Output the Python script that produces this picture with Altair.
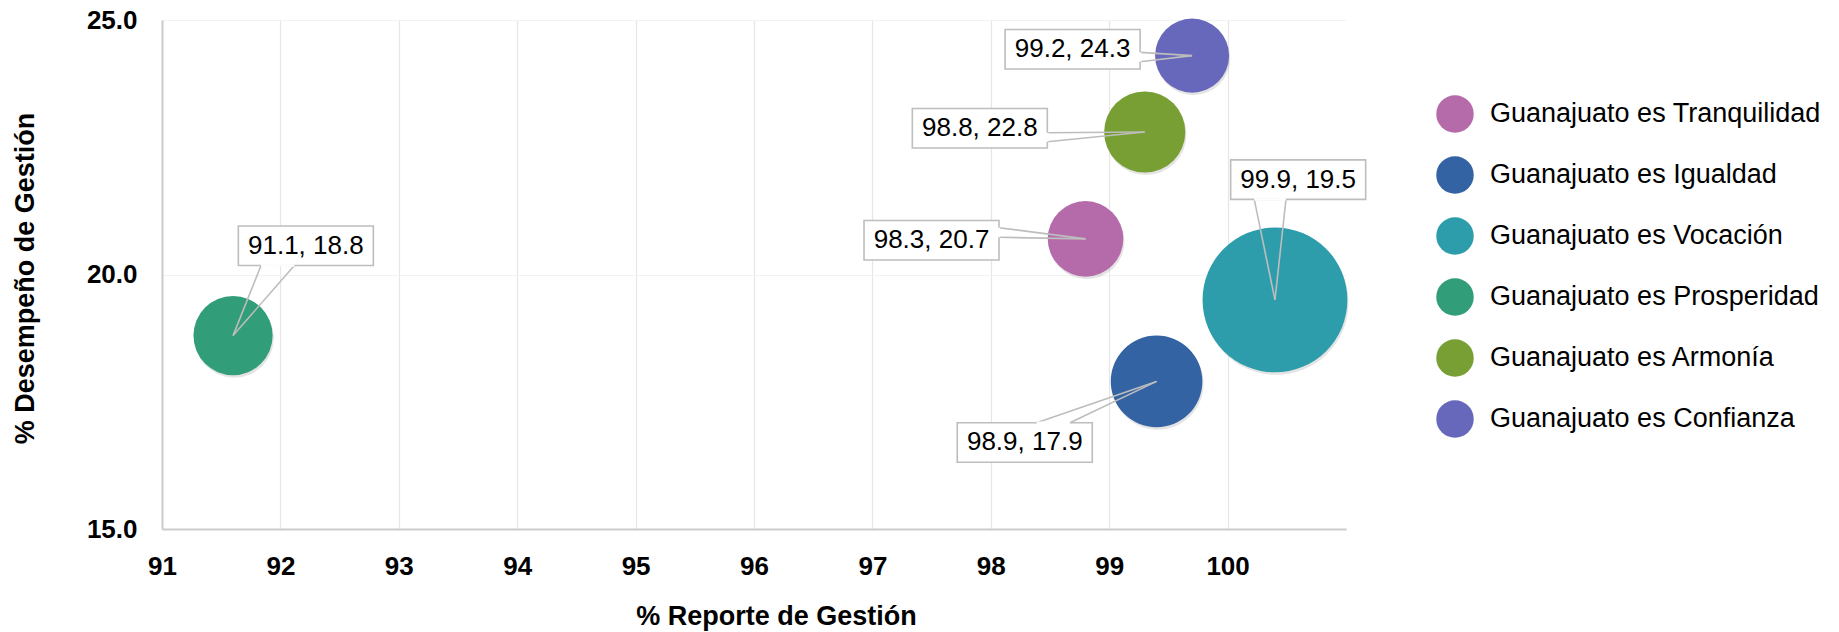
import altair as alt
import pandas as pd

# ---------------- data ----------------
categorias = [
    "Guanajuato es Tranquilidad",
    "Guanajuato es Igualdad",
    "Guanajuato es Vocación",
    "Guanajuato es Prosperidad",
    "Guanajuato es Armonía",
    "Guanajuato es Confianza",
]
reporte = [98.8, 99.4, 100.4, 91.6, 99.3, 99.7]       # bubble position, % Reporte de Gestión
desempeno = [20.7, 17.9, 19.5, 18.8, 22.8, 24.3]      # bubble position, % Desempeño de Gestión
etiquetas = ["98.3, 20.7", "98.9, 17.9", "99.9, 19.5", "91.1, 18.8", "98.8, 22.8", "99.2, 24.3"]
tamano = [57.2, 83.9, 209.7, 62.7, 65.9, 54.8]        # bubble size value (estimated)
colores = ["#B56BAA", "#3363A3", "#2E9DAB", "#329D79", "#789F33", "#6768BC"]

x_ticks = [91, 92, 93, 94, 95, 96, 97, 98, 99, 100]
y_ticks = [15, 20, 25]

# ---------------- layout / style ----------------
X_DOMAIN = [91, 101]
Y_DOMAIN = [15, 25]
W, H = 1184, 509
PXX = W / (X_DOMAIN[1] - X_DOMAIN[0])
PXY = H / (Y_DOMAIN[1] - Y_DOMAIN[0])
FONT = "Liberation Sans"
GREY = "#bdbdbd"

BOX_W, BOX_H = 135, 39.5
# callout layout in pixels relative to bubble centre (right, down):
# box centre offset, and the two points where the pointer leaves the box
callouts = {
    "Guanajuato es Tranquilidad": ((-154, 1.4), (-86.5, -11.2), (-86.5, -1.6)),
    "Guanajuato es Igualdad": ((-131.8, 61.1), (-119.9, 41.35), (-86.6, 41.35)),
    "Guanajuato es Vocación": ((23.2, -120.3), (-20.7, -100.55), (11, -100.55)),
    "Guanajuato es Prosperidad": ((72.8, -89.8), (28, -70.05), (61.3, -70.05)),
    "Guanajuato es Armonía": ((-164.9, -3.7), (-97.4, 0.7), (-97.4, 9.7)),
    "Guanajuato es Confianza": ((-119.5, -6.4), (-52, -3.3), (-52, 6.1)),
}

df = pd.DataFrame({
    "cat": categorias, "x": reporte, "y": desempeno, "z": tamano, "label": etiquetas,
})

shadow = df.copy()
shadow["x"] = shadow["x"] + 1.2 / PXX
shadow["y"] = shadow["y"] - 2.5 / PXY

boxes, wedges, gaps = [], [], []
for c, x, y, lab in zip(categorias, reporte, desempeno, etiquetas):
    (bdx, bdy), p1, p2 = callouts[c]
    boxes.append({
        "x": x + (bdx - BOX_W / 2) / PXX, "x2": x + (bdx + BOX_W / 2) / PXX,
        "y": y - (bdy - BOX_H / 2) / PXY, "y2": y - (bdy + BOX_H / 2) / PXY,
        "cx": x + bdx / PXX, "cy": y - bdy / PXY, "label": lab,
    })
    for p in (p1, p2):
        wedges.append({"x": x, "y": y, "x2": x + p[0] / PXX, "y2": y - p[1] / PXY})
    gaps.append({"x": x + p1[0] / PXX, "y": y - p1[1] / PXY,
                 "x2": x + p2[0] / PXX, "y2": y - p2[1] / PXY})
boxes = pd.DataFrame(boxes)
wedges = pd.DataFrame(wedges)
gaps = pd.DataFrame(gaps)

xs = alt.Scale(domain=X_DOMAIN, nice=False, zero=False)
ys = alt.Scale(domain=Y_DOMAIN, nice=False, zero=False)

x_axis = alt.Axis(
    values=x_ticks, format="d", title="% Reporte de Gestión",
    labelFont=FONT, labelFontSize=26, labelFontWeight="bold", labelColor="#000000",
    labelPadding=24, ticks=False, domainColor="#cccccc", domainWidth=2,
    gridColor="#e6e6e6", gridWidth=1.2, labelFlush=False,
    titleFont=FONT, titleFontSize=27, titleFontWeight="bold", titleColor="#000000",
    titleX=614, titleY=87, titleBaseline="middle", titleAlign="center",
)
y_axis = alt.Axis(
    values=y_ticks, format=".1f", title="% Desempeño de Gestión",
    labelFont=FONT, labelFontSize=26, labelFontWeight="bold", labelColor="#000000",
    labelPadding=25, ticks=False, domainColor="#cccccc", domainWidth=2,
    gridColor="#f2f2f2", gridWidth=1.2, labelFlush=False,
    titleFont=FONT, titleFontSize=27, titleFontWeight="bold", titleColor="#000000",
    titleX=-136.5, titleY=258, titleAngle=270, titleBaseline="middle", titleAlign="center",
)


def X(field):
    return alt.X(field, scale=xs, axis=x_axis, title="% Reporte de Gestión")


def Y(field):
    return alt.Y(field, scale=ys, axis=y_axis, title="% Desempeño de Gestión")


size_scale = alt.Scale(domain=[0, 209.7], range=[0, 20967], zero=True)

shadow_layer = alt.Chart(shadow).mark_circle(color="#7a7a7a", opacity=0.2).encode(
    x=X("x:Q"), y=Y("y:Q"),
    size=alt.Size("z:Q", scale=size_scale, legend=None),
)

bubbles = alt.Chart(df).mark_circle(opacity=1).encode(
    x=X("x:Q"), y=Y("y:Q"),
    size=alt.Size("z:Q", scale=size_scale, legend=None),
    color=alt.Color(
        "cat:N",
        scale=alt.Scale(domain=categorias, range=colores),
        sort=categorias,
        legend=alt.Legend(
            title=None, orient="none", legendX=1274, legendY=75,
            symbolType="circle", symbolSize=1406, symbolStrokeWidth=0, symbolOpacity=1,
            labelFont=FONT, labelFontSize=27, labelColor="#000000", labelLimit=600,
            labelOffset=16, rowPadding=23, padding=0,
        ),
    ),
)

box_layer = alt.Chart(boxes).mark_rect(fill="white", stroke=GREY, strokeWidth=1.6).encode(
    x=X("x:Q"), x2="x2:Q", y=Y("y:Q"), y2="y2:Q",
)

wedge_layer = alt.Chart(wedges).mark_rule(color=GREY, strokeWidth=1.6).encode(
    x=X("x:Q"), x2="x2:Q", y=Y("y:Q"), y2="y2:Q",
)

gap_layer = alt.Chart(gaps).mark_rule(color="white", strokeWidth=2.4).encode(
    x=X("x:Q"), x2="x2:Q", y=Y("y:Q"), y2="y2:Q",
)

text_layer = alt.Chart(boxes).mark_text(
    font=FONT, fontSize=26, color="#000000", align="center", baseline="middle"
).encode(
    x=X("cx:Q"), y=Y("cy:Q"), text="label:N",
)

chart = alt.layer(
    shadow_layer, bubbles, box_layer, wedge_layer, gap_layer, text_layer
).properties(
    width=W, height=H,
    padding={"left": 154, "top": 12, "right": 485, "bottom": 103},
    autosize=alt.AutoSizeParams(type="none"),
).configure(background="white").configure_view(stroke=None)

chart.save("out.html", embed_options={"renderer": "svg", "actions": False})
